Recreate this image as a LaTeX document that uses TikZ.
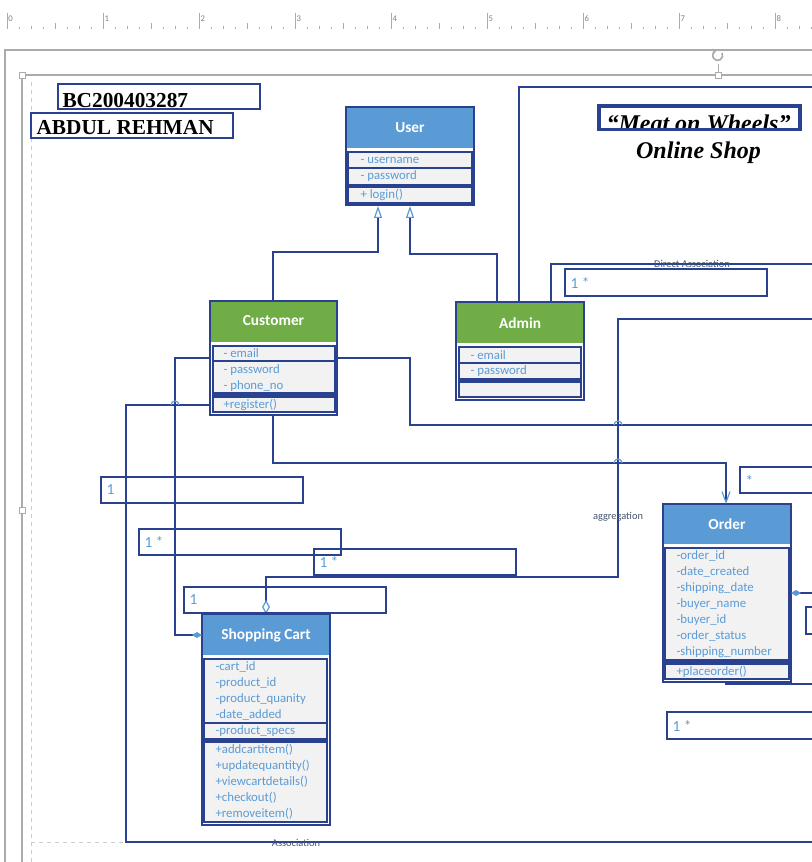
\documentclass[tikz,border=0pt]{standalone}
\usepackage{fontspec}
\usetikzlibrary{arrows.meta}
\newfontfamily\carlito{Carlito}
\newfontfamily\libserif{Liberation Serif}
\definecolor{navy}{RGB}{41,65,143}
\definecolor{headblue}{RGB}{91,155,213}
\definecolor{headgreen}{RGB}{112,173,71}
\definecolor{rowgray}{RGB}{242,242,242}
\definecolor{txtblue}{RGB}{91,155,213}
\definecolor{lblgray}{RGB}{68,84,106}
\definecolor{uigray}{RGB}{171,171,171}

\tikzset{every picture/.style={line width=0.75pt}}
\tikzset{
  conn/.style={draw=navy, line width=1.5pt},
  clsframe/.style={draw=navy, line width=1.9pt, fill=white},
  clsinner/.style={draw=navy, line width=1.5pt},
  rowsep/.style={draw=navy, line width=1.2pt},
  clstitle/.style={text=white, inner sep=0.75pt, font=\carlito\bfseries\fontsize{11.5}{13}\selectfont},
  attr/.style={anchor=west, inner sep=0.75pt, text=txtblue, font=\carlito\fontsize{9.6}{11}\selectfont},
  multbox/.style={draw=navy, line width=1.5pt},
  multtext/.style={anchor=west, inner sep=0.75pt, text=txtblue, font=\carlito\fontsize{11.5}{13}\selectfont},
  linklabel/.style={inner sep=0.75pt, text=lblgray, font=\carlito\fontsize{7.8}{9}\selectfont},
  titlebox/.style={draw=navy, line width=1.5pt},
  titletext/.style={anchor=base west, inner sep=0pt, font=\libserif\bfseries\fontsize{16}{18}\selectfont},
  jump/.style={draw=txtblue, line width=0.9pt},
  rulertick/.style={draw=uigray, line width=0.6pt},
  handle/.style={draw=uigray, fill=white, line width=0.6pt},
  gentri/.tip={Triangle[open, length=9pt, width=6pt, color=txtblue, line width=0.9pt]},
  aggdia/.tip={Diamond[open, length=10.5pt, width=6pt, color=txtblue, line width=0.9pt]},
  compdia/.tip={Diamond[length=7.5pt, width=4.5pt, color=txtblue]},
  openv/.tip={Straight Barb[length=8pt, width=6pt, color=txtblue, line width=0.9pt]}
}

\begin{document}
\begin{tikzpicture}[x=0.75pt,y=0.75pt,yscale=-1,xscale=1]
\useasboundingbox (0,0) rectangle (812,862);
\clip (0,0) rectangle (812,862);

% Ruler
\foreach \i in {0,...,67} \draw[rulertick] ({7+12*\i},27.5) -- ({7+12*\i},29.5);
\foreach \i in {0,...,33} \draw[rulertick] ({7+24*\i},26) -- ({7+24*\i},29.5);
\foreach \i in {0,...,16} \draw[rulertick] ({55+96*\i},23) -- ({55+96*\i},29.5);
\foreach \k in {0,...,8} {
  \draw[rulertick] ({7+96*\k},13) -- ({7+96*\k},29.5);
  \node[anchor=west, inner sep=0pt, text=gray, font=\carlito\fontsize{6.5}{7}\selectfont] (num\k) at ({8+96*\k},18.5) {\k};
}

% Page and selection frame
\draw[uigray, line width=1pt] (5,862) -- (5,50) -- (815,50);
\draw[uigray, line width=0.8pt] (22,862) -- (22,75) -- (815,75);
\draw[uigray!60, dashed, line width=0.6pt] (31,862) -- (31,78);
\draw[uigray!60, dashed, line width=0.6pt] (31,842) -- (126,842);
\draw[uigray, line width=0.6pt] (718,64) -- (718,72);
\draw[uigray, line width=1.2pt, -{Straight Barb[length=2pt,width=3pt]}] (722,53) arc (-30:260:5);
\draw[handle] (19,72) rectangle (25,78);
\draw[handle] (715,72) rectangle (721,78);
\draw[handle] (19,507) rectangle (25,513);

% Title boxes
\draw[titlebox] (58,84) rectangle (260,109);
\node[titletext] (regno) at (62,107.5) {BC200403287};
\draw[titlebox] (31,113) rectangle (233,138);
\node[titletext] (stname) at (36,134.5) {ABDUL REHMAN};
\begin{scope}
\clip (598,105) rectangle (801,130);
\node[anchor=base west, inner sep=0pt, font=\libserif\bfseries\itshape\fontsize{18}{20}\selectfont] (shopname) at (606,132) {“Meat on Wheels”};
\end{scope}
\draw[navy, line width=2.6pt] (599,106) rectangle (800,129.5);
\node[anchor=base, inner sep=0pt, font=\libserif\bfseries\itshape\fontsize{18}{20}\selectfont] (shopsub) at (698.5,159) {Online Shop};

%Shape: Class User
\draw[clsframe] (346,107) rectangle (474,205);
\fill[headblue] (347,108) rectangle (473,148);
\fill[rowgray] (348,152) rectangle (472,203);
\fill[navy] (348,184) rectangle (472,188);
\draw[rowsep] (348,168) -- (472,168);
\draw[clsinner] (348,152) rectangle (472,203);
\node[clstitle] (user) at (410,128) {User};
\node[attr] (user-a1) at (359,160) {- username};
\node[attr] (user-a2) at (359,176) {- password};
\node[attr] (user-m1) at (359,195) {+ login()};
\coordinate (user-s1) at (378,206);
\coordinate (user-s2) at (410,206);

%Shape: Class Customer
\draw[clsframe] (210,301) rectangle (337,415);
\fill[headgreen] (211,302) rectangle (336,342);
\fill[rowgray] (213,346) rectangle (335,412);
\fill[navy] (213,392) rectangle (335,398);
\draw[rowsep] (213,361) -- (335,361);
\draw[clsinner] (213,346) rectangle (335,412);
\node[clstitle] (customer) at (273.5,321) {Customer};
\node[attr] (cust-a1) at (222,353) {- email};
\node[attr] (cust-a2) at (222,370) {- password};
\node[attr] (cust-a3) at (222,386) {- phone\_no};
\node[attr] (cust-m1) at (222,405) {+register()};
\coordinate (cust-n) at (273,301);
\coordinate (cust-w1) at (210,358);
\coordinate (cust-w2) at (210,405);
\coordinate (cust-e) at (337,358);
\coordinate (cust-s) at (273,415);

%Shape: Class Admin
\draw[clsframe] (456,302) rectangle (584,400);
\fill[headgreen] (457,303) rectangle (583,343);
\fill[rowgray] (459,347) rectangle (581,397);
\fill[navy] (459,378) rectangle (581,383);
\draw[rowsep] (459,363) -- (581,363);
\draw[clsinner] (459,347) rectangle (581,397);
\node[clstitle] (admin) at (520,323) {Admin};
\node[attr] (admin-a1) at (469,355) {- email};
\node[attr] (admin-a2) at (469,371) {- password};
\coordinate (admin-n1) at (497,302);
\coordinate (admin-n2) at (519,302);
\coordinate (admin-n3) at (551,302);

%Shape: Class Order
\draw[clsframe] (663,504) rectangle (791,682);
\fill[headblue] (664,505) rectangle (790,544);
\fill[rowgray] (665,548) rectangle (789,679);
\fill[navy] (665,659) rectangle (789,665);
\draw[clsinner] (665,548) rectangle (789,679);
\node[clstitle] (order) at (727,524) {Order};
\foreach \t [count=\n] in {order\_id,date\_created,shipping\_date,buyer\_name,buyer\_id,order\_status,shipping\_number}
  \node[attr] (order-a\n) at (675,{540+16*\n}) {-\t};
\node[attr] (order-m1) at (675,672) {+placeorder()};
\coordinate (order-n) at (726,504);
\coordinate (order-e) at (791,593);
\coordinate (order-s) at (726,682);

%Shape: Class Shopping Cart
\draw[clsframe] (202,614) rectangle (330,825);
\fill[headblue] (203,615) rectangle (329,655);
\fill[rowgray] (204,659) rectangle (327,822);
\fill[navy] (204,738) rectangle (327,743);
\draw[rowsep] (204,723) -- (327,723);
\draw[clsinner] (204,659) rectangle (327,822);
\node[clstitle] (cart) at (266,635) {Shopping Cart};
\foreach \t [count=\n] in {cart\_id,product\_id,product\_quanity,date\_added}
  \node[attr] (cart-a\n) at (214,{651+16*\n}) {-\t};
\node[attr] (cart-a5) at (214,731) {-product\_specs};
\foreach \t [count=\n] in {addcartitem(),updatequantity(),viewcartdetails(),checkout(),removeitem()}
  \node[attr] (cart-m\n) at (214,{734+16*\n}) {+\t};
\coordinate (cart-n) at (266,614);
\coordinate (cart-w) at (202,635);

% free ends and bends
\coordinate (east1) at (815,87);
\coordinate (east2) at (815,264);
\coordinate (east3) at (815,319);
\coordinate (east4) at (815,425);
\coordinate (east5) at (815,593);
\coordinate (east6) at (815,684);
\coordinate (east7) at (815,842);
\coordinate (agg-bend) at (618,577);
\coordinate (comp-bend) at (175,635);
\coordinate (assoc-bend) at (126,842);
\coordinate (cust-bend) at (410,425);
\coordinate (ord-bend) at (726,463);

%Straight Lines
\draw[conn,-gentri] (cust-n) -- ++(0,-49) -| (user-s1);
\draw[conn,-gentri] (admin-n1) -- ++(0,-48) -| (user-s2);
\draw[conn] (admin-n2) |- (east1);
\draw[conn] (admin-n3) |- (east2);
\draw[conn,-aggdia] (east3) -| (agg-bend) -| (cart-n);
\draw[conn,-compdia] (cust-w1) -| (comp-bend) -- (cart-w);
\draw[conn] (cust-w2) -| (assoc-bend) -- (east7);
\draw[conn] (cust-e) -| (cust-bend) -- (east4);
\draw[conn,-openv] (cust-s) |- (ord-bend) -- (order-n);
\draw[conn,-compdia] (east5) -- (order-e);
\draw[conn] (order-s) |- (east6);
% line jumps
\draw[jump] (171,405) arc (180:360:4);
\draw[jump] (614,425) arc (180:360:4);
\draw[jump] (614,463) arc (180:360:4);

% Multiplicity boxes
\draw[multbox] (565,269) rectangle (767,296);
\node[multtext] (mult1) at (569,283) {1 *};
\draw[multbox] (101,477) rectangle (303,503);
\node[multtext] (mult2) at (105,490) {1};
\draw[multbox] (139,529) rectangle (341,555);
\node[multtext] (mult3) at (143,542) {1 *};
\draw[multbox] (314,549) rectangle (516,575);
\node[multtext] (mult4) at (318,562) {1 *};
\draw[multbox] (184,587) rectangle (386,613);
\node[multtext] (mult5) at (188,600) {1};
\draw[multbox] (740,467) rectangle (830,493);
\node[multtext] (mult6) at (744,481) {*};
\draw[multbox] (667,712) rectangle (830,739);
\node[multtext] (mult7) at (671,726) {1 *};
\draw[multbox] (806,607) rectangle (830,634);

% Text Node
\node[linklabel] (lbl-direct) at (692,264) {Direct Association};
\node[linklabel] (lbl-agg) at (618,517) {aggregation};
\node[linklabel] (lbl-assoc) at (296,843) {Association};

\end{tikzpicture}
\end{document}
